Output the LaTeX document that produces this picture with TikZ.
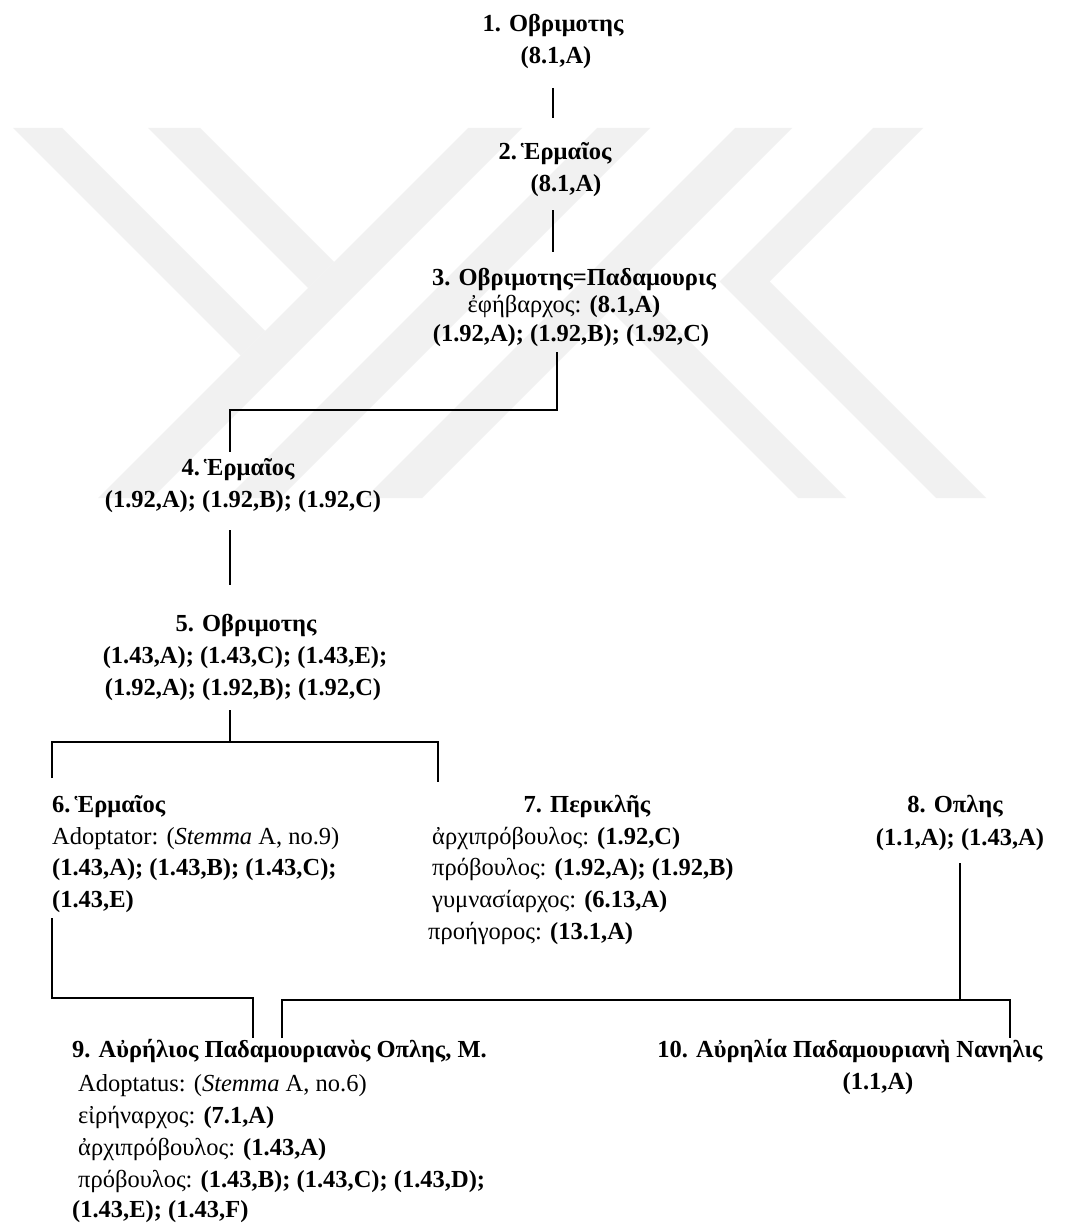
\documentclass[tikz,border=0pt]{standalone}
\usepackage{fontspec}
\setmainfont{Liberation Serif}
\usetikzlibrary{calc}
\definecolor{wmgray}{RGB}{241,241,241}
\begin{document}
\begin{tikzpicture}[x=1pt,y=-1pt,
  lbl/.style={inner sep=0pt, anchor=base, font=\fontsize{24.5}{30}\selectfont},
  lblw/.style={lbl, anchor=base west},
  hd/.style={lbl, font=\fontsize{24.5}{30}\selectfont\bfseries},
  hdw/.style={hd, anchor=base west},
  link/.style={line width=1.3pt}]
\useasboundingbox (0,0) rectangle (1070,1228);
\fill[white] (0,0) rectangle (1070,1228);

% faint background emblem made of diagonal bands
\begin{scope}[fill=wmgray]
  \fill (13,128) -- (62,128) -- (265,331) -- (240.5,355.5) -- cycle;
  \fill (148,128) -- (200,128) -- (334,262) -- (308,288) -- cycle;
  \fill (468,128) -- (522,128) -- (152,498) -- (98,498) -- cycle;
  \fill (597,128) -- (650,128) -- (280,498) -- (227,498) -- cycle;
  \fill (735,128) -- (792,128) -- (422,498) -- (365,498) -- cycle;
  \fill (610,310) -- (634,286) -- (846,498) -- (798,498) -- cycle;
  \fill (873,128) -- (923,128) -- (769.5,281.5) -- (986,498) -- (936,498) -- (719.5,281.5) -- cycle;
\end{scope}

% generation 1-3
\node[hd] (n1a) at (553,32) {1. Οβριμοτης};
\node[hd] (n1b) at (556,64) {(8.1,A)};
\node[hd] (n2a) at (555,159) {2.\,Ἑρμαῖος};
\node[hd] (n2b) at (566,191) {(8.1,A)};
\node[hd] (n3a) at (574,285) {3. Οβριμοτης=Παδαμουρις};
\node[lbl] (n3b) at (564,312) {ἐφήβαρχος: \textbf{(8.1,A)}};
\node[hd] (n3c) at (571,341) {(1.92,A); (1.92,B); (1.92,C)};

% generation 4-5
\node[hd] (n4a) at (238,475) {4.\,Ἑρμαῖος};
\node[hd] (n4b) at (243,507) {(1.92,A); (1.92,B); (1.92,C)};
\node[hd] (n5a) at (246,631) {5. Οβριμοτης};
\node[hd] (n5b) at (245,663) {(1.43,A); (1.43,C); (1.43,E);};
\node[hd] (n5c) at (243,695) {(1.92,A); (1.92,B); (1.92,C)};

% generation 6
\node[hdw] (n6a) at (52,812) {6.\,Ἑρμαῖος};
\node[lblw] (n6b) at (52,844) {Adoptator: (\textit{Stemma} A, no.9)};
\node[hdw] (n6c) at (52,875) {(1.43,A); (1.43,B); (1.43,C);};
\node[hdw] (n6d) at (52,907) {(1.43,E)};

\node[hd] (n7a) at (587,812) {7. Περικλῆς};
\node[lblw] (n7b) at (432,844) {ἀρχιπρόβουλος: \textbf{(1.92,C)}};
\node[lblw] (n7c) at (432,875) {πρόβουλος: \textbf{(1.92,A); (1.92,B)}};
\node[lblw] (n7d) at (432,907) {γυμνασίαρχος: \textbf{(6.13,A)}};
\node[lblw] (n7e) at (428,939) {προήγορος: \textbf{(13.1,A)}};

\node[hd] (n8a) at (955,812) {8. Οπλης};
\node[hd] (n8b) at (960,845) {(1.1,A); (1.43,A)};

% generation 7
\node[hdw] (n9a) at (72,1057) {9. Αὐρήλιος Παδαμουριανὸς Οπλης, Μ.};
\node[lblw] (n9b) at (78,1091) {Adoptatus: (\textit{Stemma} A, no.6)};
\node[lblw] (n9c) at (78,1123) {εἰρήναρχος: \textbf{(7.1,A)}};
\node[lblw] (n9d) at (78,1155) {ἀρχιπρόβουλος: \textbf{(1.43,A)}};
\node[lblw] (n9e) at (78,1187) {πρόβουλος: \textbf{(1.43,B); (1.43,C); (1.43,D);}};
\node[hdw] (n9f) at (72,1217) {(1.43,E); (1.43,F)};

\node[hd] (n10a) at (850,1057) {10. Αὐρηλία Παδαμουριανὴ Νανηλις};
\node[hd] (n10b) at (878,1089) {(1.1,A)};

% descent lines
\draw[link] ($(n1b.base)+(-3,24)$) -- ($(n2a.base)+(-2,-41)$);
\draw[link] ($(n2b.base)+(-13,19)$) -- ($(n3a.base)+(-21,-33)$);
\draw[link] ($(n3c.base)+(-14,11)$) |- ($(n4a.base)+(-8,-65)$) -- ($(n4a.base)+(-8,-23)$);
\draw[link] ($(n4b.base)+(-13,23)$) -- ($(n5a.base)+(-16,-46)$);
\draw[link] ($(n5c.base)+(-13,15)$) -- ($(n5c.base)+(-13,47)$);
\draw[link] ($(n6a.base west)+(0,-34)$) |- ($(n7b.base west)+(6,-102)$) -- ($(n7b.base west)+(6,-62)$);
\draw[link] ($(n6d.base west)+(0,11)$) |- ($(n9a.base west)+(181,-59)$) -- ($(n9a.base west)+(181,-19)$);
\draw[link] ($(n8b.base)+(0,18)$) -- ($(n8b.base)+(0,155)$);
\draw[link] ($(n9a.base west)+(210,-19)$) -- ++(0,-38) -| ($(n10a.base)+(160,-19)$);
\end{tikzpicture}
\end{document}
